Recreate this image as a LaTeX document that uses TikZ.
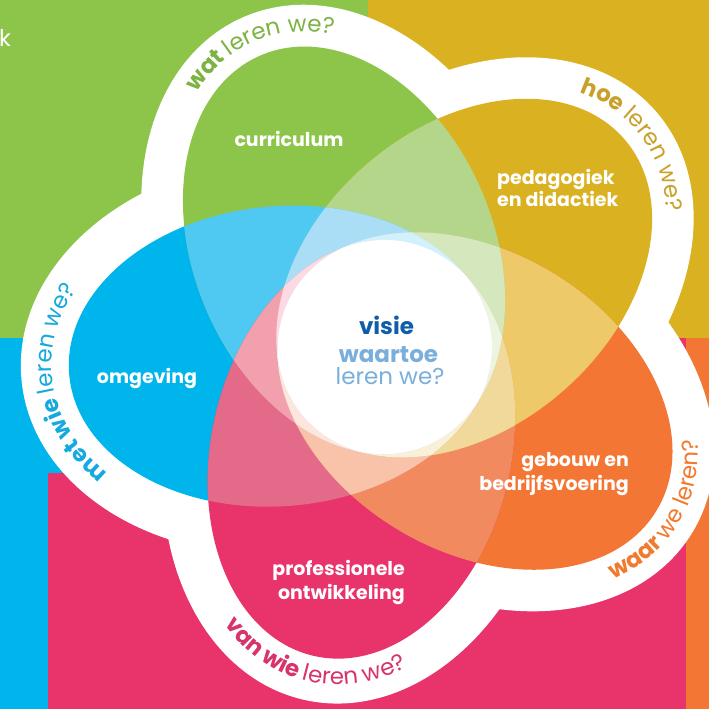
\documentclass[tikz,border=0pt]{standalone}
\usepackage{fontspec}
\setmainfont{Poppins}
\usetikzlibrary{decorations.text}
\definecolor{cG}{HTML}{8DC54B}
\definecolor{cY}{HTML}{DAB221}
\definecolor{cO}{HTML}{F37635}
\definecolor{cP}{HTML}{E8336B}
\definecolor{cB}{HTML}{00B4EC}
\definecolor{cB2}{HTML}{4FC8F2}
\definecolor{cG2}{HTML}{B3D68A}
\definecolor{cY2}{HTML}{EEC96A}
\definecolor{cO2}{HTML}{F28A60}
\definecolor{cP2}{HTML}{E46A8A}
\definecolor{cB3}{HTML}{A9DEF6}
\definecolor{cG3}{HTML}{D5E7BD}
\definecolor{cY3}{HTML}{F0D99A}
\definecolor{cO3}{HTML}{F8C3A8}
\definecolor{cP3}{HTML}{F3A0AE}
\colorlet{cB4}{cB!18!white}
\colorlet{cG4}{cG!18!white}
\colorlet{cY4}{cY!18!white}
\colorlet{cO4}{cO!18!white}
\colorlet{cP4}{cP!18!white}
\definecolor{tG}{HTML}{7CB342}
\definecolor{tY}{HTML}{C9A02A}
\definecolor{tO}{HTML}{F07A2D}
\definecolor{tP}{HTML}{D7336C}
\definecolor{tB}{HTML}{14A9DF}
\definecolor{cVis}{HTML}{0F5DA8}
\definecolor{cWaar}{HTML}{7AAFDB}
\newcommand\rgA[2]{\fill[#1,use path=#2];}
\newcommand\rgB[3]{\begin{scope}\clip[use path=#2];\fill[#1,use path=#3];\end{scope}}
\newcommand\rgC[4]{\begin{scope}\clip[use path=#2];\clip[use path=#3];\fill[#1,use path=#4];\end{scope}}
\newcommand\rgD[5]{\begin{scope}\clip[use path=#2];\clip[use path=#3];\clip[use path=#4];\fill[#1,use path=#5];\end{scope}}
\newcommand\rgE[6]{\begin{scope}\clip[use path=#2];\clip[use path=#3];\clip[use path=#4];\clip[use path=#5];\fill[#1,use path=#6];\end{scope}}
\newcommand\bandB[1]{\fontsize{23}{27}\selectfont\bfseries\color{#1}}
\newcommand\bandR[1]{\fontsize{23}{27}\selectfont\mdseries\color{#1}}
\newcommand\bandtext[6]{\path[shift={(385,362)},rotate=#1,decorate,decoration={text along path,text align=center,text={#6}}] ({105+#2*cos(#4)},{#3*sin(#4)}) arc [start angle=#4,end angle=#5,x radius=#2,y radius=#3];}
\begin{document}
\begin{tikzpicture}[x=1pt,y=1pt,
  lbl/.style={text=white,font=\fontsize{19}{23}\selectfont\bfseries,inner sep=0pt},
  ctrb/.style={font=\fontsize{23}{28}\selectfont\bfseries,inner sep=0pt,anchor=base},
  ctrr/.style={font=\fontsize{23}{28}\selectfont,inner sep=0pt,anchor=base}]
\clip (0,0) rectangle (709,709);
% background blocks
\fill[cG] (0,371) rectangle (368,709);
\fill[cY] (368,371) rectangle (709,709);
\fill[cB] (0,0) rectangle (385,371);
\fill[cP] (385,0) rectangle (686,371);
\fill[cP] (48,0) rectangle (686,236);
\fill[cO] (686,0) rectangle (709,371);
\node[text=white,font=\fontsize{23}{28}\selectfont,inner sep=0pt,anchor=base west] (kk) at (-1,662) {k};
% petal paths
\path[save path=\pB,shift={(385,362)},rotate=185] (105,0) ellipse [x radius=212,y radius=150];
\path[save path=\pG,shift={(385,362)},rotate=113] (105,0) ellipse [x radius=212,y radius=150];
\path[save path=\pY,shift={(385,362)},rotate=41] (105,0) ellipse [x radius=212,y radius=150];
\path[save path=\pO,shift={(385,362)},rotate=-31] (105,0) ellipse [x radius=212,y radius=150];
\path[save path=\pP,shift={(385,362)},rotate=-103] (105,0) ellipse [x radius=212,y radius=150];
\path[save path=\oB,shift={(385,362)},rotate=185] (105,0) ellipse [x radius=260,y radius=198];
\path[save path=\oG,shift={(385,362)},rotate=113] (105,0) ellipse [x radius=254,y radius=192];
\path[save path=\oY,shift={(385,362)},rotate=41] (105,0) ellipse [x radius=254,y radius=192];
\path[save path=\oO,shift={(385,362)},rotate=-31] (105,0) ellipse [x radius=254,y radius=192];
\path[save path=\oP,shift={(385,362)},rotate=-103] (105,0) ellipse [x radius=257,y radius=195];
% white band
\fill[white,use path=\oB];
\fill[white,use path=\oG];
\fill[white,use path=\oY];
\fill[white,use path=\oO];
\fill[white,use path=\oP];
% level 1
\rgA{cB}{\pB}\rgA{cG}{\pG}\rgA{cY}{\pY}\rgA{cO}{\pO}\rgA{cP}{\pP}
% level 2
\rgB{cB2}{\pB}{\pG}\rgB{cG2}{\pG}{\pY}\rgB{cY2}{\pY}{\pO}\rgB{cO2}{\pO}{\pP}\rgB{cP2}{\pP}{\pB}
\rgB{cB2}{\pB}{\pY}\rgB{cG2}{\pG}{\pO}\rgB{cY2}{\pY}{\pP}\rgB{cO2}{\pO}{\pB}\rgB{cP2}{\pP}{\pG}
% level 3
\rgC{cB3}{\pB}{\pG}{\pY}\rgC{cG3}{\pG}{\pY}{\pO}\rgC{cY3}{\pY}{\pO}{\pP}\rgC{cO3}{\pO}{\pP}{\pB}\rgC{cP3}{\pP}{\pB}{\pG}
\rgC{cB3}{\pB}{\pG}{\pO}\rgC{cG3}{\pG}{\pY}{\pP}\rgC{cY3}{\pY}{\pO}{\pB}\rgC{cO3}{\pO}{\pP}{\pG}\rgC{cP3}{\pP}{\pB}{\pY}
% level 4
\rgD{cG4}{\pG}{\pY}{\pO}{\pP}\rgD{cY4}{\pY}{\pO}{\pP}{\pB}\rgD{cO4}{\pO}{\pP}{\pB}{\pG}\rgD{cP4}{\pP}{\pB}{\pG}{\pY}\rgD{cB4}{\pB}{\pG}{\pY}{\pO}
% level 5
\rgE{white}{\pB}{\pG}{\pY}{\pO}{\pP}
% band texts
\bandtext{113}{227}{165}{60}{-60}{|\bandB{tG}|wat |\bandR{tG}|leren we?}
\bandtext{41}{227}{165}{57}{-63}{|\bandB{tY}|hoe |\bandR{tY}|leren we?}
\bandtext{185}{229}{167}{63}{-57}{|\bandB{tB}|met wie |\bandR{tB}|leren we?}
\bandtext{-31}{238}{176}{-60}{60}{|\bandB{tO}|waar |\bandR{tO}|we leren?}
\bandtext{-103}{238}{176}{-60}{60}{|\bandB{tP}|van wie |\bandR{tP}|leren we?}
% labels
\node[lbl,anchor=base] (curr) at (289,562) {curriculum};
\node[lbl,anchor=base west] (ped1) at (497,524) {pedagogiek};
\node[lbl,anchor=base west] (ped2) at (497,502) {en didactiek};
\node[lbl,anchor=base] (omg) at (147,325) {omgeving};
\node[lbl,anchor=base east] (geb1) at (629,242) {gebouw en};
\node[lbl,anchor=base east] (geb2) at (629,218) {bedrijfsvoering};
\node[lbl,anchor=base east] (prof1) at (405,133) {professionele};
\node[lbl,anchor=base east] (prof2) at (405,109) {ontwikkeling};
\node[ctrb,text=cVis] (visie) at (386.5,374) {visie};
\node[ctrb,text=cWaar] (waartoe) at (388.5,346) {waartoe};
\node[ctrr,text=cWaar] (lerenwe) at (390,324) {leren we?};
\end{tikzpicture}
\end{document}
